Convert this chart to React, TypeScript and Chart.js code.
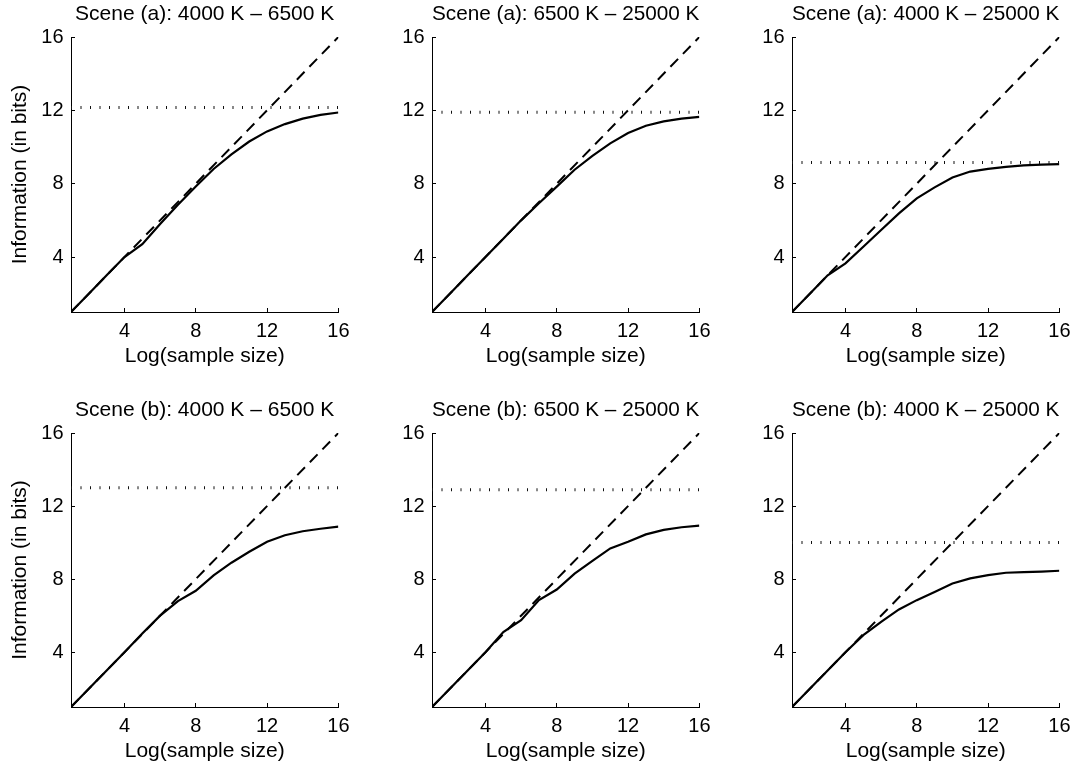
import React, { useEffect, useRef } from "react";
import { Chart, registerables } from "chart.js";

Chart.register(...registerables);

// ---------- data ----------
const logSampleSize = [1, 2, 3, 4, 5, 6, 7, 8, 9, 10, 11, 12, 13, 14, 15, 16];
const identityX = [1, 16];
const identityY = [1, 16];
const tickValues = [4, 8, 12, 16];

const panelTitles = [
  "Scene (a): 4000 K – 6500 K",
  "Scene (a): 6500 K – 25000 K",
  "Scene (a): 4000 K – 25000 K",
  "Scene (b): 4000 K – 6500 K",
  "Scene (b): 6500 K – 25000 K",
  "Scene (b): 4000 K – 25000 K",
];

// dotted horizontal line level (bits) for each panel
const entropyLevels = [12.15, 11.9, 9.15, 13.0, 12.9, 10.0];

// solid curves: information estimate at each log(sample size)
const infoA1 = [1, 2, 3, 4, 4.7, 5.8, 6.85, 7.85, 8.8, 9.6, 10.3, 10.85, 11.25, 11.55, 11.75, 11.88];
const infoA2 = [1, 2, 3, 4, 5, 6, 6.93, 7.84, 8.76, 9.52, 10.2, 10.76, 11.16, 11.4, 11.55, 11.64];
const infoA3 = [1, 2, 3, 3.65, 4.56, 5.47, 6.38, 7.2, 7.8, 8.34, 8.66, 8.81, 8.92, 9.0, 9.04, 9.07];
const infoB1 = [1, 2, 3, 4, 5.02, 6.0, 6.8, 7.36, 8.2, 8.9, 9.5, 10.05, 10.4, 10.62, 10.76, 10.87];
const infoB2 = [1, 2, 3, 4, 5.1, 5.75, 6.85, 7.43, 8.3, 9.0, 9.68, 10.05, 10.45, 10.7, 10.84, 10.93];
const infoB3 = [1, 2, 3, 4, 4.93, 5.66, 6.34, 6.85, 7.3, 7.76, 8.04, 8.22, 8.35, 8.38, 8.41, 8.46];

const panelCurves = [infoA1, infoA2, infoA3, infoB1, infoB2, infoB3];

const xAxisLabel = "Log(sample size)";
const yAxisLabel = "Information (in bits)";

// ---------- layout ----------
const FONT = "'Liberation Sans', Arial, Helvetica, sans-serif";
const COL_LEFT = [0, 361, 721];
const ROW_PLOT_TOP = [37, 433];
const ROW_PLOT_H = [275, 274];
const Y_AXIS_W = 71;
const PLOT_W = 274;
const RIGHT_PAD = 16;
const TITLE_H = 37;
const X_AXIS_H = 58;

function Panel({ index }: { index: number }) {
  const ref = useRef<HTMLCanvasElement | null>(null);
  const col = index % 3;
  const row = Math.floor(index / 3);
  const width = Y_AXIS_W + PLOT_W + RIGHT_PAD;
  const height = TITLE_H + ROW_PLOT_H[row] + X_AXIS_H;
  const left = COL_LEFT[col];
  const top = ROW_PLOT_TOP[row] - TITLE_H;

  useEffect(() => {
    if (!ref.current) return;
    const curve = panelCurves[index];
    const level = entropyLevels[index];
    const setTicks = (s: any) => {
      s.ticks = tickValues.map((v) => ({ value: v }));
    };
    const chart = new Chart(ref.current, {
      type: "line",
      data: {
        datasets: [
          {
            data: identityX.map((x, i) => ({ x, y: identityY[i] })),
            borderColor: "#000",
            borderWidth: 2,
            borderDash: [11, 7],
            pointRadius: 0,
            tension: 0,
            fill: false,
          },
          {
            data: identityX.map((x) => ({ x, y: level })),
            borderColor: "#111",
            borderWidth: 3,
            borderDash: [1, 8.5],
            pointRadius: 0,
            tension: 0,
            fill: false,
          },
          {
            data: logSampleSize.map((x, i) => ({ x, y: curve[i] })),
            borderColor: "#000",
            borderWidth: 2.2,
            pointRadius: 0,
            tension: 0,
            fill: false,
          },
        ],
      },
      options: {
        animation: false,
        responsive: false,
        maintainAspectRatio: false,
        devicePixelRatio: 1,
        events: [],
        layout: { padding: { left: 0, right: RIGHT_PAD, top: 0, bottom: 0 } },
        plugins: {
          legend: { display: false },
          tooltip: { enabled: false },
          title: { display: false },
        },
        scales: {
          x: {
            type: "linear",
            position: "bottom",
            min: 1,
            max: 16,
            afterBuildTicks: setTicks,
            afterFit: (s: any) => {
              s.height = X_AXIS_H;
            },
            grid: {
              drawOnChartArea: false,
              drawTicks: true,
              tickLength: -4,
              color: "#000",
              tickColor: "#000",
              lineWidth: 1,
            },
            border: { display: true, color: "#000", width: 1 },
            ticks: {
              color: "#000",
              font: { family: FONT, size: 20 },
              padding: 11.5,
              autoSkip: false,
              maxRotation: 0,
            },
            title: {
              display: true,
              text: xAxisLabel,
              color: "#000",
              font: { family: FONT, size: 21 },
              padding: { top: 0, bottom: 1.4 },
            },
          },
          xTop: {
            type: "linear",
            position: "top",
            min: 1,
            max: 16,
            afterFit: (s: any) => {
              s.height = TITLE_H;
            },
            ticks: { display: false },
            grid: { display: false },
            border: { display: false },
            title: {
              display: true,
              text: panelTitles[index],
              color: "#000",
              font: { family: FONT, size: 21 },
              padding: { top: 2.1, bottom: 0 },
            },
          },
          y: {
            type: "linear",
            position: "left",
            min: 1,
            max: 16,
            afterBuildTicks: setTicks,
            afterFit: (s: any) => {
              s.width = Y_AXIS_W;
            },
            grid: {
              drawOnChartArea: false,
              drawTicks: true,
              tickLength: -4,
              color: "#000",
              tickColor: "#000",
              lineWidth: 1,
            },
            border: { display: true, color: "#000", width: 1 },
            ticks: {
              color: "#000",
              font: { family: FONT, size: 20 },
              padding: 11.5,
              autoSkip: false,
            },
            title: {
              display: col === 0,
              text: yAxisLabel,
              color: "#000",
              font: { family: FONT, size: 21 },
              padding: { top: 7.4, bottom: 0 },
            },
          },
        },
      } as any,
    });
    return () => chart.destroy();
  }, [index]);

  return (
    <canvas
      ref={ref}
      width={width}
      height={height}
      style={{ position: "absolute", left, top, width, height, display: "block" }}
    />
  );
}

export default function App() {
  return (
    <div
      style={{
        position: "absolute",
        left: 0,
        top: 0,
        width: 1083,
        height: 766,
        overflow: "hidden",
        background: "#fff",
      }}
    >
      {[0, 1, 2, 3, 4, 5].map((i) => (
        <Panel key={i} index={i} />
      ))}
    </div>
  );
}
